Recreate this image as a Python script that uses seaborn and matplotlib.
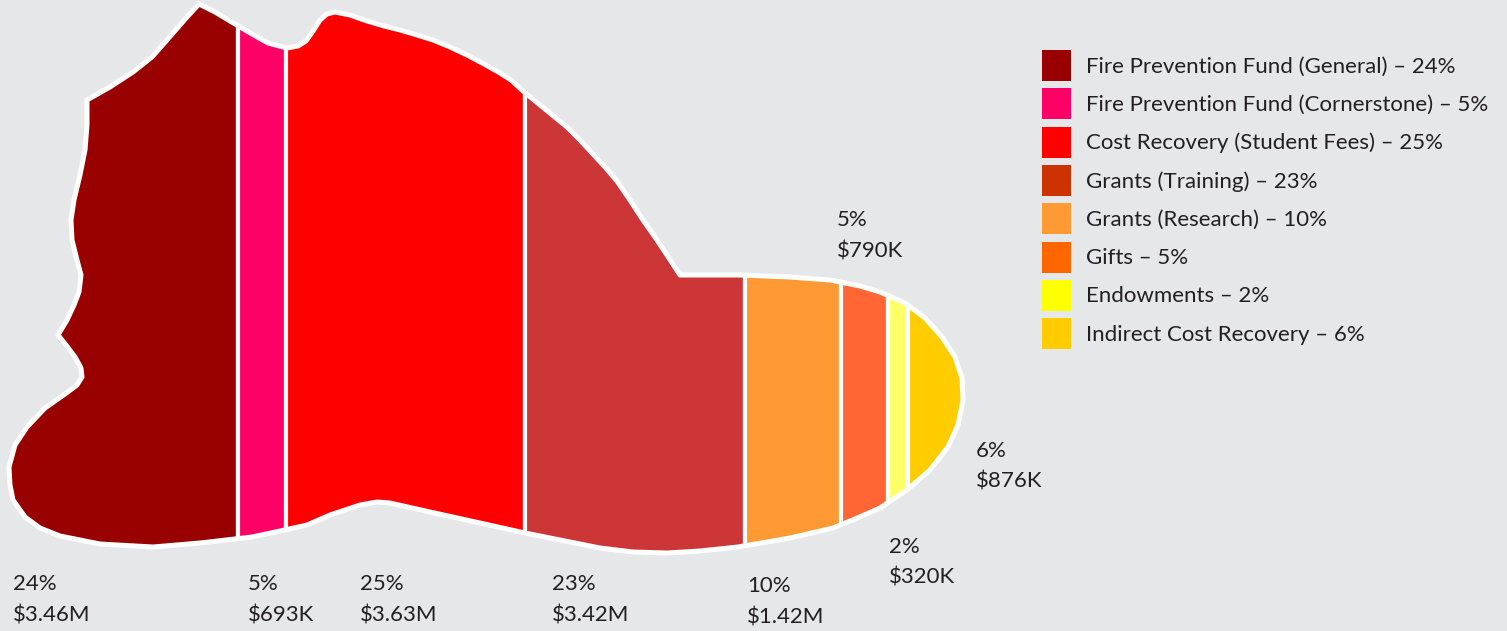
import numpy as np
import matplotlib.pyplot as plt
import seaborn as sns
from matplotlib.patches import Polygon, Patch

# ---------------- data ----------------
SOURCES = [
    "Fire Prevention Fund (General)",
    "Fire Prevention Fund (Cornerstone)",
    "Cost Recovery (Student Fees)",
    "Grants (Training)",
    "Grants (Research)",
    "Gifts",
    "Endowments",
    "Indirect Cost Recovery",
]
PERCENTS = [24, 5, 25, 23, 10, 5, 2, 6]
AMOUNTS = ["$3.46M", "$693K", "$3.63M", "$3.42M", "$1.42M", "$790K", "$320K", "$876K"]

STRIP_COLORS = ["#990000", "#FF0066", "#FF0000", "#CC3636",
                "#FF9933", "#FF6633", "#FFFF66", "#FFCC00"]
LEGEND_COLORS = ["#990000", "#FF0066", "#FF0000", "#CC3300",
                 "#FF9933", "#FF6600", "#FFFF00", "#FFCC00"]

# ---------------- layout ----------------
BG = "#E6E7E8"
TXT = "#231F20"
W, H = 1507, 631
SHAPE_LEFT, SHAPE_W = 8, 957          # pixel span of the 0..100 % axis

# silhouette outline (pixels, y down)
OUTLINE_PX = [
    (199, 4), (215, 12), (235, 24), (252, 34), (268, 43), (287, 48), (298, 46),
    (306, 41), (313, 31), (320, 20), (327, 14), (335, 12), (350, 15), (367, 21),
    (384, 26), (400, 30), (417, 35), (433, 40), (450, 47), (467, 55), (484, 64),
    (500, 73), (511, 80), (523, 91), (545, 109), (567, 127), (580, 140),
    (593, 154), (605, 167), (617, 181), (630, 200), (643, 220), (655, 237),
    (667, 255), (680, 275), (740, 275), (790, 277), (830, 280),
    (860, 286), (880, 292), (905, 303), (925, 318), (942, 337), (955, 357),
    (962, 378), (963, 400), (958, 425), (948, 447), (930, 470), (907, 490),
    (880, 508), (855, 519), (833, 528), (790, 538), (738, 547), (700, 551),
    (667, 553), (633, 552), (600, 548), (560, 540), (525, 533), (480, 523),
    (430, 512), (390, 503), (377, 502), (360, 505), (330, 515), (307, 525),
    (280, 531), (252, 537), (200, 543), (153, 547), (100, 544), (60, 536),
    (40, 528), (25, 517), (13, 500), (10, 485), (9, 467), (15, 445), (27, 427),
    (45, 408), (65, 394), (77, 385), (82, 377), (81, 368), (75, 357), (66, 345),
    (58, 335), (67, 320), (74, 305), (79, 292), (81, 275), (77, 260), (72, 240),
    (71, 220), (74, 200), (80, 175), (85, 150), (87, 125), (87, 100), (110, 87),
    (133, 72), (152, 57), (167, 40), (187, 17),
]

# label anchor (x, baseline of % line) in pixels
LABEL_POS = [(13, 590), (248, 590), (360, 590), (552, 590),
             (747, 592), (837, 226), (889, 553), (976, 457)]
LINE_GAP = 31

sns.set_theme(style="white", rc={"axes.facecolor": BG, "figure.facecolor": BG})
plt.rcParams["font.family"] = ["Lato", "DejaVu Sans"]
FS = 16

fig = plt.figure(figsize=(W / 100, H / 100), dpi=100)

# strips: x axis in percent
ax = fig.add_axes([SHAPE_LEFT / W, 0, SHAPE_W / W, 1])
ax.set_xlim(0, 100)
ax.set_ylim(H, 0)
ax.axis("off")

pts = np.array(OUTLINE_PX, dtype=float)
pts[:, 0] = (pts[:, 0] - SHAPE_LEFT) / SHAPE_W * 100
shape = Polygon(pts, closed=True, facecolor="none", edgecolor="none")
ax.add_patch(shape)

lefts = np.concatenate([[0], np.cumsum(PERCENTS)[:-1]])
bars = ax.bar(lefts, H, width=PERCENTS, bottom=0, align="edge",
              color=STRIP_COLORS, edgecolor="white", linewidth=3)
for b in bars:
    b.set_clip_path(shape)

border = Polygon(pts, closed=True, facecolor="none", edgecolor="white",
                 linewidth=3.6, joinstyle="round", zorder=5)
border.set_clip_on(False)
ax.add_patch(border)

# overlay in pixel coordinates for labels
ov = fig.add_axes([0, 0, 1, 1])
ov.set_xlim(0, W)
ov.set_ylim(H, 0)
ov.axis("off")
ov.patch.set_alpha(0)
for (x, y), p, a in zip(LABEL_POS, PERCENTS, AMOUNTS):
    ov.text(x, y, f"{p}%", fontsize=FS, color=TXT, va="baseline", parse_math=False)
    ov.text(x, y + LINE_GAP, a, fontsize=FS, color=TXT, va="baseline", parse_math=False)

# legend
handles = [Patch(facecolor=c, edgecolor="none", linewidth=0) for c in LEGEND_COLORS]
labels = [f"{s} \u2013 {p}%" for s, p in zip(SOURCES, PERCENTS)]
fpx = FS * 100 / 72
hh = (31 / fpx - 0.245) / 0.65
fig.legend(handles, labels, loc="upper left",
           bbox_to_anchor=(1042 / W, 1 - 50 / H), frameon=False,
           fontsize=FS, labelcolor=TXT,
           handlelength=29 / fpx, handleheight=hh,
           handletextpad=15 / fpx, labelspacing=7.3 / fpx,
           borderpad=0, borderaxespad=0)

fig.savefig("out.png", dpi=100, facecolor=BG)
